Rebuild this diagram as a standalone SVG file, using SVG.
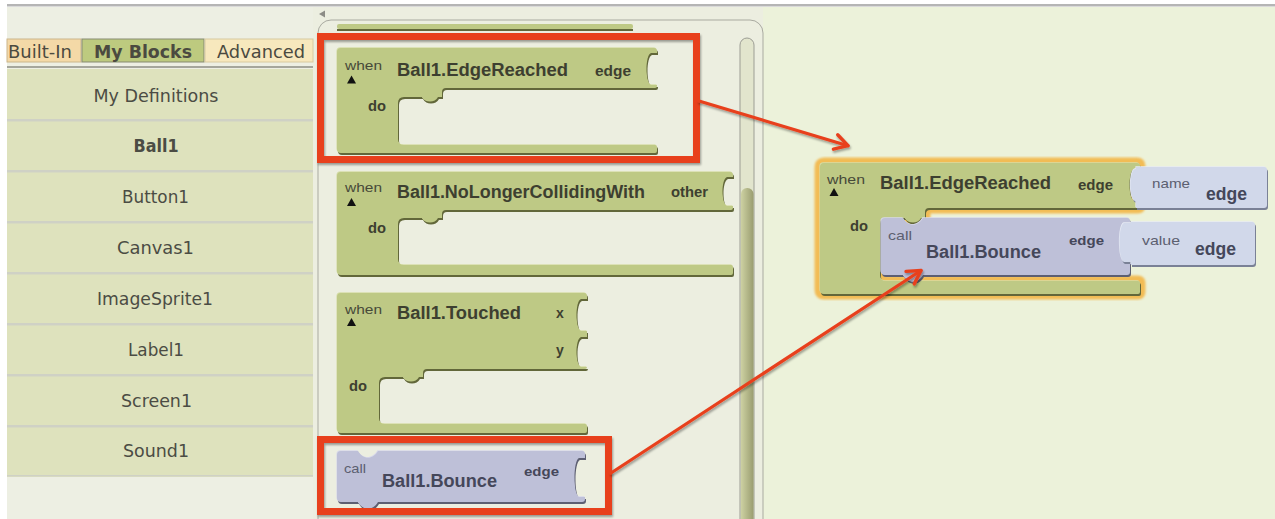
<svg xmlns="http://www.w3.org/2000/svg" width="1275" height="519" viewBox="0 0 1275 519">
  <defs>
    <style>
      .lbl{font-family:"Liberation Sans",Arial,sans-serif;font-weight:bold;font-size:17.5px;fill:#3d3f30}
      .lblp{font-family:"Liberation Sans",Arial,sans-serif;font-weight:bold;font-size:17.5px;fill:#45475a}
      .prm{font-family:"Liberation Sans",Arial,sans-serif;font-weight:bold;font-size:14px;fill:#3d3f30}
      .prmp{font-family:"Liberation Sans",Arial,sans-serif;font-weight:bold;font-size:13.5px;fill:#45475a}
      .kw{font-family:"Liberation Sans",Arial,sans-serif;font-size:13.5px;fill:#474939}
      .kwp{font-family:"Liberation Sans",Arial,sans-serif;font-size:13.5px;fill:#5c5f70}
      .big{font-family:"Liberation Sans",Arial,sans-serif;font-weight:bold;font-size:18px;fill:#44475a}
      .list{font-family:"DejaVu Sans",sans-serif;font-size:17px;fill:#4b4c44;text-anchor:middle}
      .tab{font-family:"DejaVu Sans",sans-serif;font-size:17px;fill:#4b4a40}
      .green{fill:#bec985}
      .green-hl{fill:#d6dda8}
      .green-sh{fill:#62673a}
      .purple{fill:#bec0d8}
      .purple-hl{fill:#d8d9ea}
      .purple-sh{fill:#5d5f72}
      .blue{fill:#d1d8ea}
      .blue-hl{fill:#e6eaf4}
      .blue-sh{fill:#7a8196}
      .glow{fill:#f2bc55;stroke:#f2bc55;stroke-width:11;stroke-linejoin:round}
      .redbox{fill:none;stroke:#e8411f;stroke-width:7}
      .arrow{fill:none;stroke:#e8411f;stroke-width:3.2;stroke-linecap:round}
      .sep{fill:#cfd1c5}
      .row{fill:#dee2bd}
      .tri{fill:#111}
    </style>
    <filter id="ds" x="-10%" y="-10%" width="125%" height="130%">
      <feDropShadow dx="1" dy="2" stdDeviation="1.3" flood-color="#000" flood-opacity="0.35"/>
    </filter>
    <filter id="soft" x="-5%" y="-5%" width="110%" height="110%">
      <feGaussianBlur stdDeviation="1.2"/>
    </filter>
    <linearGradient id="thumb" x1="0" y1="0" x2="1" y2="0">
      <stop offset="0" stop-color="#cdd1a2"/>
      <stop offset="1" stop-color="#9a9d70"/>
    </linearGradient>
    <marker id="ah" markerUnits="userSpaceOnUse" markerWidth="20" markerHeight="20" viewBox="-16 -10 20 20" refX="0" refY="0" orient="auto" overflow="visible">
      <path d="M-13,-7.5 L0,0 L-13,7.5" fill="none" stroke="#e8411f" stroke-width="3.4" stroke-linecap="round" stroke-linejoin="round"/>
    </marker>

    <!-- block outlines -->
    <path id="evEdge" d="M341,48 H654 Q657,48 657,51 V53 H651 C645,55 645,83 651,85 H657 V86 Q657,88 655,88 H446 Q442,88 442,92 V97 H438 C435,103 425,103 422,97 H404 Q398,97 398,103 V139 Q398,145 404,145 H655 Q657,145 657,147 V151 Q657,153 655,153 H341 Q337,153 337,149 V52 Q337,48 341,48 Z"/>
    <path id="evNoLonger" d="M341,172 H730 Q733,172 733,175 V177 H727 C721,179 721,204 727,206 H733 V208 Q733,210 731,210 H446 Q442,210 442,214 V218 H438 C435,224 425,224 422,218 H404 Q398,218 398,224 V259 Q398,265 404,265 H731 Q733,265 733,267 V273 Q733,275 731,275 H341 Q337,275 337,271 V176 Q337,172 341,172 Z"/>
    <path id="evTouched" d="M341,293 H584 Q587,293 587,296 V299 H581 C575,301 575,329 581,331 H587 V337 H581 C575,339 575,365 581,367 H587 Q587,369 585,369 H427 Q423,369 423,373 V377 H419 C416,383 406,383 403,377 H385 Q379,377 379,383 V418 Q379,424 385,424 H585 Q587,424 587,426 V431 Q587,433 585,433 H341 Q337,433 337,429 V297 Q337,293 341,293 Z"/>
    <path id="callPal" d="M341,451 H358 C363,460 373,460 378,451 H582 Q585,451 585,454 V458 H579 C573,460 573,495 579,497 H585 V499 Q585,502 582,502 H378 C373,511 363,511 358,502 H341 Q337,502 337,498 V455 Q337,451 341,451 Z"/>
    <path id="evWork" d="M824,163 H1137 Q1140,163 1140,166 V169 H1134 C1128,171 1128,199 1134,201 H1140 V206 Q1140,208 1138,208 H929 Q925,208 925,212 V218 H921 C918,224 908,224 905,218 H886 Q880,218 880,224 V275 Q880,281 886,281 H1138 Q1140,281 1140,283 V292 Q1140,294 1138,294 H824 Q820,294 820,290 V167 Q820,163 824,163 Z"/>
    <path id="callWork" d="M885,218 H903 C908,227 918,227 923,218 H1127 Q1130,218 1130,221 V223 H1124 C1118,225 1118,260 1124,262 H1130 V272 Q1130,275 1127,275 H923 C918,284 908,284 903,275 H885 Q881,275 881,271 V222 Q881,218 885,218 Z"/>
    <path id="nameWork" d="M1136,167 H1264 Q1267,167 1267,170 V205 Q1267,208 1264,208 H1136 V201 H1135 C1129,199 1129,171 1135,169 H1136 Z"/>
    <path id="valueWork" d="M1131,222 H1252 Q1255,222 1255,225 V262 Q1255,265 1252,265 H1131 V262 H1124 C1118,260 1118,225 1124,223 H1131 Z"/>
  </defs>

  <!-- page -->
  <rect x="0" y="0" width="1275" height="519" fill="#ffffff"/>
  <rect x="7" y="7" width="311" height="512" fill="#edefe3"/>
  <rect x="313" y="7" width="452" height="512" fill="#eceee0"/>
  <rect x="763" y="7" width="512" height="512" fill="#ecf2da"/>
  <rect x="7" y="4" width="1268" height="2.5" fill="#b5b5b5"/>

  <!-- drawer tabs -->
  <g id="tabs">
    <rect x="7" y="39" width="74" height="23" fill="#f4d9a7" stroke="#cbb68b" stroke-width="1"/>
    <rect x="82" y="39" width="122" height="23" fill="#bdca7f" stroke="#878b72" stroke-width="1"/>
    <rect x="205" y="39" width="108" height="23" fill="#f7e8bd" stroke="#d8ca9f" stroke-width="1"/>
    <text class="tab" x="8" y="58" textLength="64" lengthAdjust="spacingAndGlyphs">Built-In</text>
    <text class="tab" x="94" y="58" font-weight="bold" textLength="98" lengthAdjust="spacingAndGlyphs">My Blocks</text>
    <text class="tab" x="217" y="58" textLength="88" lengthAdjust="spacingAndGlyphs">Advanced</text>
    <rect x="7" y="66" width="306" height="2" fill="#a5a69c"/>
  </g>

  <!-- component list -->
  <g id="component-list">
    <rect class="row" x="7" y="69" width="306" height="408"/>
    <rect class="sep" x="7" y="119" width="306" height="2.5"/>
    <rect class="sep" x="7" y="170" width="306" height="2.5"/>
    <rect class="sep" x="7" y="221" width="306" height="2.5"/>
    <rect class="sep" x="7" y="272" width="306" height="2.5"/>
    <rect class="sep" x="7" y="323" width="306" height="2.5"/>
    <rect class="sep" x="7" y="374" width="306" height="2.5"/>
    <rect class="sep" x="7" y="425" width="306" height="2.5"/>
    <rect class="sep" x="7" y="475" width="306" height="1.5"/>
    <text class="list" x="156" y="102" textLength="125" lengthAdjust="spacingAndGlyphs">My Definitions</text>
    <text class="list" x="156" y="152" font-weight="bold" textLength="45" lengthAdjust="spacingAndGlyphs">Ball1</text>
    <text class="list" x="155.5" y="203" textLength="67" lengthAdjust="spacingAndGlyphs">Button1</text>
    <text class="list" x="155.5" y="254" textLength="77" lengthAdjust="spacingAndGlyphs">Canvas1</text>
    <text class="list" x="155" y="305" textLength="116" lengthAdjust="spacingAndGlyphs">ImageSprite1</text>
    <text class="list" x="156" y="356" textLength="56" lengthAdjust="spacingAndGlyphs">Label1</text>
    <text class="list" x="156.5" y="407" textLength="71" lengthAdjust="spacingAndGlyphs">Screen1</text>
    <text class="list" x="156" y="457" textLength="66" lengthAdjust="spacingAndGlyphs">Sound1</text>
  </g>

  <!-- block drawer -->
  <g id="drawer">
    <polygon points="319,14 325,10.5 325,17.5" fill="#8c8c86"/>
    <rect x="318" y="20" width="445" height="520" rx="13" fill="#eceee0" stroke="#a9aaa0" stroke-width="1"/>
    <rect x="740" y="38" width="14" height="500" rx="7" fill="#e2e5cd" stroke="#9c9d94" stroke-width="1"/>
    <rect x="741" y="188" width="12.5" height="340" rx="6" fill="url(#thumb)"/>
    <!-- tail of a block scrolled above -->
    <rect x="337" y="24" width="296" height="5" rx="2" class="green"/>
    <rect x="337" y="29" width="296" height="2" class="green-sh"/>
  </g>

  <g id="block-edge-reached">
    <use href="#evEdge" class="green-sh" transform="translate(1,2)"/>
    <use href="#evEdge" class="green-hl" transform="translate(-0.6,-0.8)"/>
    <use href="#evEdge" class="green"/>
    <text class="kw" x="345" y="70" textLength="37" lengthAdjust="spacingAndGlyphs">when</text>
    <polygon class="tri" points="347,83.5 351.5,75.5 356,83.5"/>
    <text class="lbl" x="397" y="76" textLength="171" lengthAdjust="spacingAndGlyphs">Ball1.EdgeReached</text>
    <text class="prm" x="595" y="76" textLength="36" lengthAdjust="spacingAndGlyphs">edge</text>
    <text class="prm" x="368" y="111" textLength="18" lengthAdjust="spacingAndGlyphs">do</text>
  </g>

  <g id="block-no-longer-colliding">
    <use href="#evNoLonger" class="green-sh" transform="translate(1,2)"/>
    <use href="#evNoLonger" class="green-hl" transform="translate(-0.6,-0.8)"/>
    <use href="#evNoLonger" class="green"/>
    <text class="kw" x="345" y="192" textLength="37" lengthAdjust="spacingAndGlyphs">when</text>
    <polygon class="tri" points="347,206 351.5,198 356,206"/>
    <text class="lbl" x="397" y="198" textLength="248" lengthAdjust="spacingAndGlyphs">Ball1.NoLongerCollidingWith</text>
    <text class="prm" x="671" y="197" textLength="37" lengthAdjust="spacingAndGlyphs">other</text>
    <text class="prm" x="368" y="233" textLength="18" lengthAdjust="spacingAndGlyphs">do</text>
  </g>

  <g id="block-touched">
    <use href="#evTouched" class="green-sh" transform="translate(1,2)"/>
    <use href="#evTouched" class="green-hl" transform="translate(-0.6,-0.8)"/>
    <use href="#evTouched" class="green"/>
    <text class="kw" x="345" y="314" textLength="37" lengthAdjust="spacingAndGlyphs">when</text>
    <polygon class="tri" points="347,326 351.5,318 356,326"/>
    <text class="lbl" x="397" y="319" textLength="124" lengthAdjust="spacingAndGlyphs">Ball1.Touched</text>
    <text class="prm" x="556" y="318">x</text>
    <text class="prm" x="556" y="355">y</text>
    <text class="prm" x="349" y="391" textLength="18" lengthAdjust="spacingAndGlyphs">do</text>
  </g>

  <g id="block-call-bounce">
    <use href="#callPal" class="purple-sh" transform="translate(1,2)"/>
    <use href="#callPal" class="purple-hl" transform="translate(-0.6,-0.8)"/>
    <use href="#callPal" class="purple"/>
    <text class="kwp" x="344" y="473" textLength="22" lengthAdjust="spacingAndGlyphs">call</text>
    <text class="lblp" x="382" y="487" textLength="115" lengthAdjust="spacingAndGlyphs">Ball1.Bounce</text>
    <text class="prmp" x="524" y="476" textLength="35" lengthAdjust="spacingAndGlyphs">edge</text>
  </g>

  <!-- assembled handler in the workspace -->
  <g id="workspace-handler">
    <use href="#evWork" class="glow" filter="url(#soft)"/>
    <use href="#evWork" class="green-sh" transform="translate(1,2)"/>
    <use href="#evWork" class="green-hl" transform="translate(-0.6,-0.8)"/>
    <use href="#evWork" class="green"/>
    <text class="kw" x="827" y="184" textLength="38" lengthAdjust="spacingAndGlyphs">when</text>
    <polygon class="tri" points="829.5,196 834,188 838.5,196"/>
    <text class="lbl" x="880" y="189" textLength="171" lengthAdjust="spacingAndGlyphs">Ball1.EdgeReached</text>
    <text class="prm" x="1078" y="190" textLength="35" lengthAdjust="spacingAndGlyphs">edge</text>
    <text class="prm" x="850" y="231" textLength="18" lengthAdjust="spacingAndGlyphs">do</text>
  </g>

  <g id="workspace-name">
    <use href="#nameWork" class="blue-sh" transform="translate(1,2)"/>
    <use href="#nameWork" class="blue-hl" transform="translate(-0.6,-0.8)"/>
    <use href="#nameWork" class="blue"/>
    <text class="kwp" x="1152" y="188" textLength="38" lengthAdjust="spacingAndGlyphs">name</text>
    <text class="big" x="1206" y="200" textLength="41" lengthAdjust="spacingAndGlyphs">edge</text>
  </g>

  <g id="workspace-call">
    <use href="#callWork" class="purple-sh" transform="translate(1,2)"/>
    <use href="#callWork" class="purple-hl" transform="translate(-0.6,-0.8)"/>
    <use href="#callWork" class="purple"/>
    <text class="kwp" x="888" y="240" textLength="24" lengthAdjust="spacingAndGlyphs">call</text>
    <text class="lblp" x="926" y="258" textLength="115" lengthAdjust="spacingAndGlyphs">Ball1.Bounce</text>
    <text class="prmp" x="1069" y="245" textLength="35" lengthAdjust="spacingAndGlyphs">edge</text>
  </g>

  <g id="workspace-value">
    <use href="#valueWork" class="blue-sh" transform="translate(1,2)"/>
    <use href="#valueWork" class="blue-hl" transform="translate(-0.6,-0.8)"/>
    <use href="#valueWork" class="blue"/>
    <text class="kwp" x="1142" y="245" textLength="38" lengthAdjust="spacingAndGlyphs">value</text>
    <text class="big" x="1195" y="255" textLength="41" lengthAdjust="spacingAndGlyphs">edge</text>
  </g>

  <!-- highlight frames -->
  <g id="frame-edge-reached" filter="url(#ds)">
    <rect class="redbox" x="320.5" y="36.5" width="376" height="123"/>
  </g>
  <g id="frame-call-bounce" filter="url(#ds)">
    <rect class="redbox" x="320.5" y="439.5" width="288" height="72"/>
  </g>

  <!-- connectors -->
  <g id="connectors" filter="url(#ds)">
    <path class="arrow" d="M699,101 L848,145.7" marker-end="url(#ah)"/>
    <path class="arrow" d="M611,473 L921,270.5" marker-end="url(#ah)"/>
  </g>
</svg>
